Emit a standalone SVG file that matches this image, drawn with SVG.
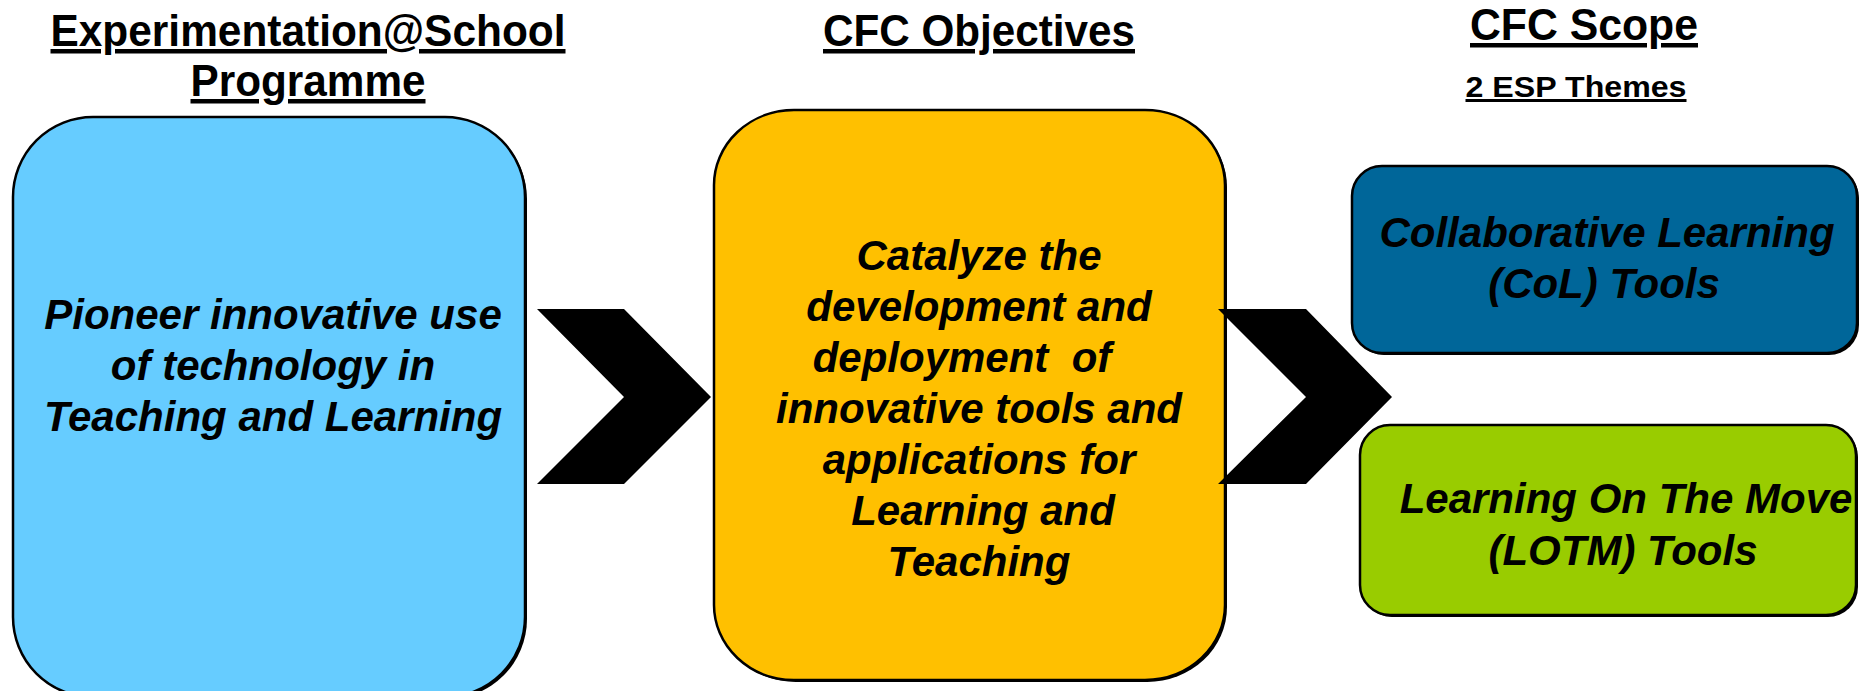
<svg xmlns="http://www.w3.org/2000/svg" width="1862" height="691" viewBox="0 0 1862 691">
<style>
.title{font-family:"Liberation Sans",Arial,sans-serif;font-weight:bold;font-size:45px;text-anchor:middle;text-decoration:underline;fill:#000}
.sub{font-family:"Liberation Sans",Arial,sans-serif;font-weight:bold;font-size:30px;text-anchor:middle;text-decoration:underline;fill:#000}
.body{font-family:"Liberation Sans",Arial,sans-serif;font-weight:bold;font-style:italic;font-size:42px;text-anchor:middle;fill:#000}
.box{stroke:#000;stroke-width:2.5}
.shadow{fill:#000}
.chev{fill:#000}
</style>
<rect width="1862" height="691" fill="#fff"/>
<g id="titles">
<text class="title" x="308" y="46" textLength="515" lengthAdjust="spacingAndGlyphs">Experimentation@School</text>
<text class="title" x="308" y="96" textLength="235" lengthAdjust="spacingAndGlyphs">Programme</text>
<text class="title" x="979" y="46" textLength="312" lengthAdjust="spacingAndGlyphs">CFC Objectives</text>
<text class="title" x="1584" y="40" textLength="228" lengthAdjust="spacingAndGlyphs">CFC Scope</text>
<text class="sub" x="1576" y="97" textLength="221" lengthAdjust="spacingAndGlyphs">2 ESP Themes</text>
</g>
<g id="node-esp">
<rect class="shadow" x="15" y="119" width="512" height="580" rx="80" ry="80"/>
<rect class="box" x="13" y="117" width="512" height="580" rx="80" ry="80" fill="#66CCFF"/>
<text class="body" x="273" y="329">Pioneer innovative use</text>
<text class="body" x="273" y="380">of technology in</text>
<text class="body" x="273" y="431">Teaching and Learning</text>
</g>
<g id="node-objectives">
<rect class="shadow" x="716" y="112" width="511" height="570" rx="80" ry="75"/>
<rect class="box" x="714" y="110" width="511" height="570" rx="80" ry="75" fill="#FFC000"/>
<text class="body" x="979" y="270">Catalyze the</text>
<text class="body" x="979" y="321">development and</text>
<text class="body" x="962" y="372" style="white-space:pre">deployment  of</text>
<text class="body" x="979" y="423">innovative tools and</text>
<text class="body" x="979" y="474">applications for</text>
<text class="body" x="983" y="525">Learning and</text>
<text class="body" x="979" y="576">Teaching</text>
</g>
<g id="node-col">
<rect class="shadow" x="1354" y="168" width="505" height="187" rx="30" ry="30"/>
<rect class="box" x="1352" y="166" width="505" height="187" rx="30" ry="30" fill="#006699"/>
<text class="body" x="1607" y="247">Collaborative Learning</text>
<text class="body" x="1604" y="298">(CoL) Tools</text>
</g>
<g id="node-lotm">
<rect class="shadow" x="1362" y="427" width="496" height="190" rx="30" ry="30"/>
<rect class="box" x="1360" y="425" width="496" height="190" rx="30" ry="30" fill="#99CC00"/>
<text class="body" x="1626" y="513">Learning On The Move</text>
<text class="body" x="1623" y="565">(LOTM) Tools</text>
</g>
<g id="connectors">
<polygon class="chev" points="537,309 624,309 711,397 624,484 537,484 624,397"/>
<polygon class="chev" points="1218,309 1306,309 1392,397 1306,484 1218,484 1306,397"/>
</g>
</svg>
